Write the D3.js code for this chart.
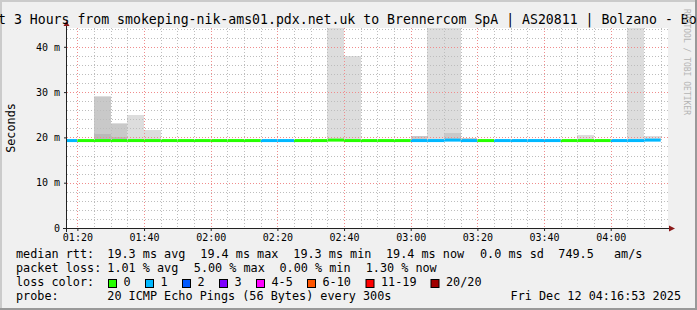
<!DOCTYPE html>
<html lang="en">
<head>
<meta charset="UTF-8">
<title>smokeping - last 3 hours</title>
<script src="https://cdnjs.cloudflare.com/ajax/libs/d3/7.8.5/d3.min.js"></script>
<style>
*{margin:0;padding:0;box-sizing:border-box}
body{background:#f0f0f0;overflow:hidden}
svg{display:block}
text{font-family:'DejaVu Sans Mono',monospace;fill:#000}
</style>
</head>
<body>
<div id="chart"></div>
<script>
// data
const titleText = "Last 3 Hours from smokeping-nik-ams01.pdx.net.uk to Brennercom SpA | AS20811 | Bolzano - Bozen";
const binTimes = ["01:15","01:20","01:25","01:30","01:35","01:40","01:45","01:50","01:55","02:00","02:05","02:10",
  "02:15","02:20","02:25","02:30","02:35","02:40","02:45","02:50","02:55","03:00","03:05","03:10",
  "03:15","03:20","03:25","03:30","03:35","03:40","03:45","03:50","03:55","04:00","04:05","04:10"];
const medianMs = [19.3,19.3,19.3,19.3,19.3,19.3,19.3,19.3,19.3,19.3,19.3,19.3,
  19.3,19.3,19.3,19.3,19.4,19.3,19.3,19.3,19.3,19.3,19.3,19.4,
  19.3,19.3,19.3,19.3,19.3,19.3,19.3,19.3,19.3,19.3,19.3,19.4];
const lossCount = [1,0,0,0,0,0,0,0,0,0,0,0,
  1,1,0,0,0,0,0,0,0,1,1,1,
  1,0,1,1,1,1,0,0,0,1,1,1];
// smoke bands (max ping levels), null where there is no visible smoke
const smokeLight = [null,null,29.2,23.2,25.0,21.6,null,null,null,null,null,null,
  null,null,null,null,60,38.0,null,null,null,null,60,60,
  null,null,null,null,null,null,null,20.5,null,null,60,20.3];
const smokeMid = [null,null,29.0,23.0,null,null,null,null,null,null,null,null,
  null,null,null,null,null,null,null,null,null,20.2,null,21.0,
  19.9,null,null,null,null,null,null,null,null,null,null,null];
const smokeDark = [null,null,20.8,20.1,null,null,null,null,null,null,null,null,
  null,null,null,null,null,null,null,null,null,null,null,null,
  null,null,null,null,null,null,null,null,null,null,null,null];
const yTicks = [0,10,20,30,40];
const lossLabels = ["0","1","2","3","4-5","6-10","11-19","20/20"];
const rttStats = ["median rtt:","19.3 ms avg","19.4 ms max","19.3 ms min","19.4 ms now","0.0 ms sd","749.5","am/s"];
const lossStats = ["packet loss:","1.01 % avg","5.00 % max","0.00 % min","1.30 % now"];
const probeText = ["probe:","20 ICMP Echo Pings (56 Bytes) every 300s"];
const stampText = "Fri Dec 12 04:16:53 2025";

// styles / layout
const lossColors = ["#26ff00","#00b8ff","#0059ff","#7e00ff","#ff00ff","#ff5500","#ff0000","#a10000"];
const lossIndex = n => n===0?0:n===1?1:n===2?2:n===3?3:n<=5?4:n<=10?5:n<20?6:7;
const rttX = [16,107.3,200.3,293.3,386,480,558.3,614];
const lossX = [16,107.3,193.8,279.5,365.7];
const boxX = [108.5,145.5,182.5,219.5,256.5,307.5,366,431];

const W=697,H=310,L=67,R=667,T=28,B=228;
const day = (h,m,s)=>Date.UTC(2025,11,12,h,m,s||0);
const tOf = s=>{const [h,m]=s.split(":").map(Number);return day(h,m)};
const x = d3.scaleUtc().domain([day(1,16,53),day(4,16,53)]).range([L,R]);
const y = d3.scaleLinear().domain([0,44.15]).range([B,T]);
const px = v=>Math.round(v);

const svg = d3.select('#chart').append('svg').attr('width',W).attr('height',H);
svg.append('rect').attr('width',W).attr('height',H).attr('fill','#f0f0f0');
// frame
svg.append('rect').attr('x',0).attr('y',0).attr('width',W).attr('height',2).attr('fill','#cbcbcb');
svg.append('rect').attr('x',0).attr('y',0).attr('width',2).attr('height',H).attr('fill','#cbcbcb');
svg.append('rect').attr('x',0).attr('y',H-2).attr('width',W).attr('height',2).attr('fill','#999');
svg.append('rect').attr('x',W-2).attr('y',0).attr('width',2).attr('height',H).attr('fill','#999');

svg.append('rect').attr('x',L).attr('y',T).attr('width',R-L+1).attr('height',B-T).attr('fill','#fff');
svg.append('clipPath').attr('id','pc').append('rect').attr('x',L).attr('y',T).attr('width',R-L).attr('height',B-T);
const plot = svg.append('g').attr('clip-path','url(#pc)');

// smoke
const bins = binTimes.map((s,i)=>({t:tOf(s),i}));
[[smokeLight,'#dddddd'],[smokeMid,'#c9c9c9'],[smokeDark,'#b9b9b9']].forEach(([arr,col])=>{
  bins.forEach(b=>{
    const v=arr[b.i]; if(v==null)return;
    const x0=px(x(b.t)),x1=px(x(b.t+300000));
    const y0=px(y(v)),y1=px(y(medianMs[b.i]));
    plot.append('rect').attr('x',x0).attr('y',y0).attr('width',x1-x0).attr('height',y1-y0).attr('fill',col);
  });
});

// grid
const g = svg.append('g');
const t0=x.domain()[0],t1=x.domain()[1];
d3.utcMinute.every(5).range(t0,t1).forEach(d=>{
  const major=d.getUTCMinutes()%20===0, xx=px(x(d))+0.5;
  g.append('line').attr('x1',xx).attr('x2',xx).attr('y1',T).attr('y2',B)
   .attr('stroke',major?'#f08c8c':'#bdbdbd').attr('stroke-dasharray','1,2');
});
d3.range(2,44.15,2).forEach(v=>{
  const major=v%10===0, yy=px(y(v))+0.5;
  g.append('line').attr('x1',L).attr('x2',R+1).attr('y1',yy).attr('y2',yy)
   .attr('stroke',major?'#f08c8c':'#bdbdbd').attr('stroke-dasharray','1,2');
});

// median line coloured by loss
bins.forEach(b=>{
  const x0=Math.max(L,x(b.t)),x1=x(b.t+300000);
  plot.append('line').attr('x1',x0).attr('x2',x1).attr('y1',y(medianMs[b.i])).attr('y2',y(medianMs[b.i]))
   .attr('stroke',lossColors[lossIndex(lossCount[b.i])]).attr('stroke-width',3);
});

// axes
const xa = svg.append('g').attr('transform',`translate(0,${B})`)
  .call(d3.axisBottom(x).tickValues(d3.utcMinute.every(20).range(t0,t1)).tickFormat(d3.utcFormat('%H:%M')).tickSize(3));
xa.select('.domain').remove();
xa.selectAll('line').attr('stroke','#222');
xa.selectAll('text').attr('y',12.7).attr('dy',0).attr('font-size','10px').attr('font-family','DejaVu Sans Mono');
const ya = svg.append('g').attr('transform',`translate(${L},0)`)
  .call(d3.axisLeft(y).tickValues(yTicks).tickFormat(d=>d?d+' m':'0').tickSize(3).tickPadding(4));
ya.select('.domain').remove();
ya.selectAll('line').attr('stroke','#222');
ya.selectAll('text').attr('font-size','10px').attr('font-family','DejaVu Sans Mono');

svg.append('line').attr('x1',63).attr('x2',669).attr('y1',B+0.5).attr('y2',B+0.5).attr('stroke','#222');
svg.append('line').attr('x1',L-0.5).attr('x2',L-0.5).attr('y1',25).attr('y2',232).attr('stroke','#222');
svg.append('path').attr('d',`M${L-0.5},21 L${L+2.5},26 L${L-3.5},26 Z`).attr('fill','#8b1a1a');
svg.append('path').attr('d',`M675,${B+0.5} L669,${B-2.5} L669,${B+3.5} Z`).attr('fill','#8b1a1a');

// title and side texts
svg.append('text').attr('x',-25.8).attr('y',24).attr('font-size','13.2px').text(titleText);
svg.append('text').attr('transform','translate(14.5,128) rotate(-90)').attr('text-anchor','middle')
  .attr('font-size','11.8px').text('Seconds');
svg.append('text').attr('transform','translate(684,9) rotate(90)').attr('font-size','8px')
  .style('fill','#b4b4b4').text('RRDTOOL / TOBI OETIKER');

// legend
const lg = svg.append('g').attr('font-size','11.8px');
rttStats.forEach((s,i)=>lg.append('text').attr('x',rttX[i]).attr('y',258).text(s));
lossStats.forEach((s,i)=>lg.append('text').attr('x',lossX[i]).attr('y',272).text(s));
lg.append('text').attr('x',16).attr('y',286).text('loss color:');
lossLabels.forEach((s,i)=>{
  lg.append('rect').attr('x',boxX[i]).attr('y',279.5).attr('width',8).attr('height',8)
    .attr('fill',lossColors[i]).attr('stroke','#000');
  lg.append('text').attr('x',boxX[i]+15).attr('y',286).text(s);
});
lg.append('text').attr('x',16).attr('y',300).text(probeText[0]);
lg.append('text').attr('x',107.3).attr('y',300).text(probeText[1]);
lg.append('text').attr('x',681).attr('y',300).attr('text-anchor','end').text(stampText);
</script>
</body>
</html>
